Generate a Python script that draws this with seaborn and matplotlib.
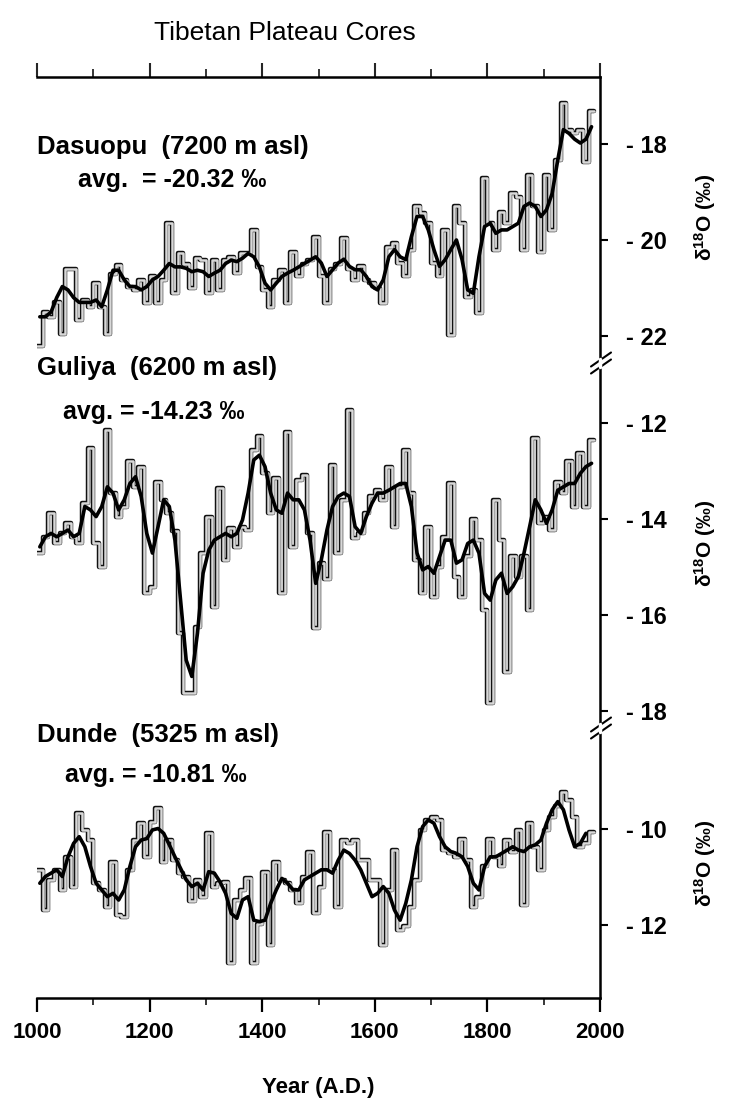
import numpy as np
import pandas as pd
import matplotlib
matplotlib.use("Agg")
import matplotlib.pyplot as plt
import seaborn as sns
from matplotlib.lines import Line2D
from matplotlib.ticker import MultipleLocator, FuncFormatter, FixedLocator

# ---------------- data ----------------
dasuopu_decadal = [
    -22.2, -21.5, -21.6, -21.3, -21.95, -20.6, -20.6, -21.67, -21.25, -21.4,
    -20.9, -21.4, -21.95, -20.7, -20.52, -20.83, -20.97, -21.04, -20.83, -21.32,
    -20.76, -21.32, -20.83, -19.65, -21.1, -20.28, -20.49, -21.0, -20.38, -20.42,
    -21.1, -20.42, -21.04, -20.42, -20.35, -20.69, -20.28, -20.28, -19.79, -20.56,
    -21.04, -21.39, -20.83, -20.63, -21.32, -20.24, -20.76, -20.49, -20.42, -19.93,
    -20.76, -21.32, -20.6, -20.5, -19.96, -20.6, -20.83, -20.55, -20.83, -20.9,
    -21.0, -21.32, -20.14, -20.07, -20.48, -20.76, -20.2, -19.3, -19.44, -19.65,
    -20.48, -20.76, -19.79, -21.98, -19.3, -19.65, -21.18, -21.04, -21.53, -18.71,
    -19.65, -20.2, -19.41, -19.65, -19.03, -19.1, -20.2, -18.64, -19.3, -20.24,
    -18.64, -19.79, -18.33, -17.15, -17.7, -17.78, -17.7, -18.37, -17.32]
dasuopu_smooth = [
    -21.6, -21.6, -21.5, -21.2, -20.97, -21.04, -21.2, -21.3, -21.3, -21.3,
    -21.25, -21.39, -21.04, -20.63, -20.63, -20.83, -20.97, -20.97, -21.04, -20.97,
    -20.83, -20.76, -20.63, -20.49, -20.56, -20.56, -20.59, -20.66, -20.63, -20.66,
    -20.76, -20.69, -20.63, -20.49, -20.42, -20.45, -20.38, -20.28, -20.35, -20.56,
    -20.9, -21.04, -20.9, -20.76, -20.69, -20.63, -20.56, -20.49, -20.42, -20.35,
    -20.48, -20.76, -20.62, -20.48, -20.4, -20.55, -20.62, -20.62, -20.76, -20.97,
    -21.04, -20.83, -20.35, -20.2, -20.35, -20.41, -19.93, -19.51, -19.51, -19.79,
    -20.2, -20.55, -20.41, -20.2, -20.0, -20.41, -21.04, -21.11, -20.35, -19.72,
    -19.65, -19.86, -19.79, -19.79, -19.72, -19.65, -19.3, -19.23, -19.3, -19.51,
    -19.37, -19.03, -18.33, -17.7, -17.78, -17.9, -17.98, -17.9, -17.64]

guliya_decadal = [
    -14.71, -14.37, -13.88, -14.51, -14.3, -14.09, -14.37, -14.51, -13.67, -12.53,
    -14.51, -14.99, -12.15, -13.46, -13.95, -13.74, -12.8, -13.33, -12.91, -15.55,
    -15.41, -13.22, -13.6, -13.88, -14.26, -16.38, -17.63, -17.63, -16.24, -14.71,
    -13.95, -15.83, -13.36, -14.85, -14.19, -14.58, -14.16, -14.23, -12.56, -12.28,
    -13.05, -13.88, -13.15, -15.55, -12.18, -14.58, -13.19, -13.08, -14.3, -16.28,
    -14.92, -15.24, -12.87, -14.71, -13.6, -11.73, -14.4, -14.3, -13.88, -13.53,
    -13.4, -13.6, -12.91, -14.16, -13.33, -12.56, -13.46, -14.85, -15.55, -14.16,
    -15.62, -14.99, -14.37, -13.26, -15.2, -15.62, -14.78, -13.99, -14.44, -15.9,
    -17.84, -13.6, -14.44, -17.18, -14.78, -15.2, -14.78, -15.9, -12.32, -14.09,
    -13.95, -14.23, -13.22, -13.46, -12.8, -13.74, -12.63, -13.74, -12.35]
guliya_smooth = [
    -14.58, -14.37, -14.3, -14.37, -14.3, -14.23, -14.37, -14.3, -13.74, -13.81,
    -13.95, -13.74, -13.33, -13.46, -13.81, -13.6, -13.26, -13.12, -13.53, -14.3,
    -14.71, -14.16, -13.6, -13.74, -14.44, -15.69, -16.94, -17.28, -16.38, -15.13,
    -14.65, -14.44, -14.37, -14.3, -14.37, -14.3, -14.02, -13.46, -12.77, -12.67,
    -12.91, -13.46, -13.81, -13.88, -13.46, -13.6, -13.6, -13.81, -14.44, -15.34,
    -14.85, -14.23, -13.74, -13.53, -13.46, -13.53, -14.16, -14.3, -13.95, -13.67,
    -13.46, -13.46, -13.4, -13.33, -13.26, -13.26, -13.74, -14.71, -15.06, -14.99,
    -15.13, -14.78, -14.44, -14.44, -14.92, -14.85, -14.51, -14.44, -14.71, -15.55,
    -15.69, -15.27, -15.13, -15.55, -15.41, -15.2, -14.71, -14.16, -13.6, -13.81,
    -14.09, -13.81, -13.4, -13.33, -13.26, -13.26, -13.05, -12.91, -12.84]

dunde_decadal = [
    -10.85, -11.69, -11.06, -10.85, -11.27, -10.58, -11.2, -9.67, -10.02, -10.23,
    -11.13, -11.27, -11.62, -10.68, -11.79, -11.83, -10.85, -10.23, -9.88, -10.58,
    -9.85, -9.57, -10.68, -10.23, -10.65, -10.92, -10.99, -11.51, -11.06, -11.41,
    -10.09, -11.2, -11.13, -11.1, -12.8, -11.48, -11.27, -11.03, -12.8, -11.97,
    -10.89, -12.42, -10.68, -11.06, -11.13, -11.27, -11.55, -10.99, -10.47, -11.76,
    -11.2, -10.06, -10.85, -11.62, -10.23, -10.3, -10.23, -10.65, -10.65, -11.06,
    -11.06, -12.42, -11.27, -10.44, -12.1, -12.03, -11.62, -11.06, -10.02, -9.81,
    -9.74, -9.81, -10.44, -10.51, -10.58, -10.2, -10.65, -11.62, -11.41, -10.78,
    -10.2, -10.58, -10.78, -10.23, -10.47, -10.02, -11.58, -9.88, -10.37, -10.85,
    -10.02, -9.74, -9.53, -9.22, -9.4, -9.74, -10.37, -10.3, -10.06]
dunde_smooth = [
    -11.13, -10.99, -10.92, -10.85, -10.99, -10.58, -10.3, -10.16, -10.37, -10.78,
    -11.13, -11.27, -11.41, -11.34, -11.48, -11.27, -10.78, -10.37, -10.23, -10.2,
    -10.02, -9.99, -10.09, -10.33, -10.58, -10.82, -11.06, -11.2, -11.13, -11.27,
    -10.89, -10.92, -11.1, -11.34, -11.76, -11.86, -11.48, -11.41, -11.9, -11.93,
    -11.9, -11.55, -11.27, -11.03, -11.13, -11.27, -11.27, -11.06, -10.99, -10.92,
    -10.85, -10.85, -10.92, -10.65, -10.44, -10.51, -10.65, -10.85, -11.13, -11.41,
    -11.34, -11.2, -11.34, -11.69, -11.9, -11.55, -11.06, -10.37, -9.95, -9.81,
    -9.88, -10.16, -10.37, -10.47, -10.51, -10.58, -10.78, -11.13, -11.27, -10.78,
    -10.58, -10.58, -10.51, -10.44, -10.37, -10.44, -10.47, -10.37, -10.33, -10.23,
    -9.88, -9.6, -9.43, -9.6, -10.02, -10.37, -10.3, -10.09]

core_names = ["Dasuopu  (7200 m asl)", "Guliya  (6200 m asl)", "Dunde  (5325 m asl)"]
core_avgs = ["avg.  = -20.32 \u2030", "avg. = -14.23 \u2030", "avg. = -10.81 \u2030"]
y_ticks = [[-18, -20, -22], [-12, -14, -16, -18], [-10, -12]]
x_tick_labels = ["1000", "1200", "1400", "1600", "1800", "2000"]
title = "Tibetan Plateau Cores"
x_label = "Year (A.D.)"
y_label = "\u03b4$^{\\mathbf{18}}$O (\u2030)"

# ---------------- style ----------------
sns.set_theme(style="white")
plt.rcParams["font.family"] = ["Liberation Sans", "DejaVu Sans"]
plt.rcParams["font.weight"] = "bold"
plt.rcParams["mathtext.fontset"] = "custom"
plt.rcParams["mathtext.rm"] = "Liberation Sans"
plt.rcParams["mathtext.bf"] = "Liberation Sans:bold"
plt.rcParams["mathtext.it"] = "Liberation Sans:italic"

W, H = 732, 1104
fig = plt.figure(figsize=(W / 100, H / 100), dpi=100)
fig.patch.set_facecolor("white")


def fx(px):
    return px / W


def fy(py):
    return 1 - py / H


L, R = 37, 600
panel_px = [(77, 363), (363, 728), (728, 998)]
panel_ylim = [(-22.5625, -16.604), (-18.354, -10.75), (-13.521, -7.896)]
decadal = [dasuopu_decadal, guliya_decadal, dunde_decadal]
smooth = [dasuopu_smooth, guliya_smooth, dunde_smooth]
name_pos = [(37, 147), (37, 368), (37, 735)]
avg_pos = [(78, 180), (63, 412), (65, 775)]
ylab_pos = [217, 543, 863]

for i in range(3):
    top, bot = panel_px[i]
    ax = fig.add_axes([fx(L), fy(bot), fx(R) - fx(L), fy(top) - fy(bot)])
    ax.set_facecolor("none")

    vals = np.asarray(decadal[i], dtype=float)
    yrs = 1000 + 10 * np.arange(len(vals))
    edges = np.append(yrs, yrs[-1] + 10)
    step_vals = np.append(vals, vals[-1])
    df_step = pd.DataFrame({"year": edges, "d18O": step_vals})
    sns.lineplot(data=df_step, x="year", y="d18O", ax=ax, color="#111111",
                 lw=3.2, drawstyle="steps-post", estimator=None, sort=False)
    sns.lineplot(data=df_step, x="year", y="d18O", ax=ax, color="#d8d8d8",
                 lw=1.8, drawstyle="steps-post", estimator=None, sort=False)

    sm = np.asarray(smooth[i], dtype=float)
    df_sm = pd.DataFrame({"year": 1005 + 10 * np.arange(len(sm)), "d18O": sm})
    sns.lineplot(data=df_sm, x="year", y="d18O", ax=ax, color="black",
                 lw=2.6, estimator=None, sort=False)

    ax.set_xlim(1000, 2000)
    ax.set_ylim(*panel_ylim[i])
    ax.set_xlabel("")
    ax.set_ylabel("")

    for s in ["left", "top", "bottom", "right"]:
        ax.spines[s].set_visible(False)
    ax.spines["right"].set_visible(True)
    ax.spines["right"].set_linewidth(1.8)
    ax.spines["right"].set_color("black")

    ax.yaxis.tick_right()
    ax.yaxis.set_major_locator(FixedLocator(y_ticks[i]))
    ax.yaxis.set_major_formatter(FuncFormatter(lambda v, p: f"- {abs(v):.0f}"))
    ax.tick_params(axis="y", which="major", direction="out", length=6, width=1.5,
                   pad=13, labelsize=17, colors="black", right=True, left=False,
                   labelright=True, labelleft=False)
    ax.xaxis.set_major_locator(MultipleLocator(200))
    ax.xaxis.set_minor_locator(MultipleLocator(100))

    if i == 0:
        ax.spines["top"].set_visible(True)
        ax.spines["top"].set_linewidth(1.8)
        ax.spines["top"].set_color("black")
        ax.xaxis.tick_top()
        ax.tick_params(axis="x", which="major", direction="out", length=10, width=1.5,
                       labeltop=False, labelbottom=False, top=True, bottom=False)
        ax.tick_params(axis="x", which="minor", direction="out", length=6, width=1.3,
                       top=True, bottom=False)
    elif i == 1:
        ax.tick_params(axis="x", which="both", top=False, bottom=False,
                       labelbottom=False, labeltop=False)
    else:
        ax.spines["bottom"].set_visible(True)
        ax.spines["bottom"].set_linewidth(1.8)
        ax.spines["bottom"].set_color("black")
        ax.xaxis.tick_bottom()
        ax.xaxis.set_major_formatter(FuncFormatter(
            lambda v, p: x_tick_labels[int(round((v - 1000) / 200))]
            if 0 <= (v - 1000) / 200 < len(x_tick_labels) else ""))
        ax.tick_params(axis="x", which="major", direction="out", length=10, width=1.6,
                       pad=7, labelsize=16, colors="black", bottom=True, top=False)
        ax.tick_params(axis="x", which="minor", direction="out", length=5, width=1.3,
                       bottom=True, top=False)

    for lbl in ax.get_yticklabels() + ax.get_xticklabels():
        lbl.set_fontweight("bold")

    fig.text(fx(name_pos[i][0]), fy(name_pos[i][1]), core_names[i], ha="left",
             va="center", fontsize=18.5, fontweight="bold", color="black")
    fig.text(fx(avg_pos[i][0]), fy(avg_pos[i][1]), core_avgs[i], ha="left",
             va="center", fontsize=18, fontweight="bold", color="black")
    fig.text(fx(705), fy(ylab_pos[i]), y_label, rotation=90, ha="center",
             va="center", fontsize=15, fontweight="bold", color="black")

# axis break marks on the right spine
for yc in (363, 728):
    for off in (-3.5, 3.5):
        fig.add_artist(Line2D([fx(591), fx(611)], [fy(yc + off + 7), fy(yc + off - 7)],
                              color="black", lw=1.5))
    fig.add_artist(Line2D([fx(600), fx(600)], [fy(yc - 4), fy(yc + 4)],
                          color="white", lw=2.5))

fig.text(fx(285), fy(33), title, ha="center", va="center", fontsize=19,
         fontweight="normal", color="black")
fig.text(fx(318), fy(1088), x_label, ha="center", va="center", fontsize=16,
         fontweight="bold", color="black")

fig.savefig("out.png", dpi=100, facecolor="white")
